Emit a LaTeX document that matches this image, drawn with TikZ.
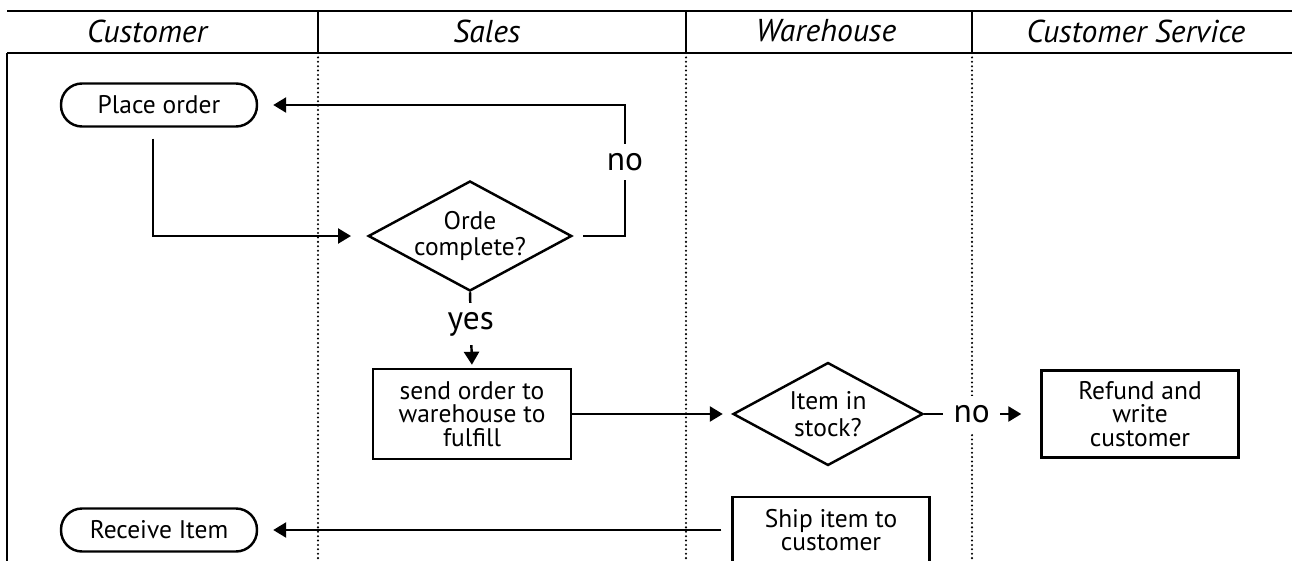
\documentclass[tikz,border=0pt]{standalone}
\usepackage{fontspec}
\setmainfont{PT Sans}
\usetikzlibrary{arrows.meta,shapes.geometric}

\tikzset{
  lane/.style={font=\fontsize{18}{20}\selectfont\itshape},
  terminal/.style={draw, line width=1.4pt, rounded corners=0.42cm, minimum width=3.92cm, minimum height=0.86cm, font=\fontsize{14.5}{13.5}\selectfont},
  process/.style={draw, line width=1.4pt, align=center, inner sep=1pt, font=\fontsize{14.5}{13.5}\selectfont},
  decision/.style={draw, diamond, line width=1.4pt, align=center, inner sep=0pt, shape aspect=1.85, font=\fontsize{14.5}{15}\selectfont},
  flow/.style={line width=1.4pt, -{Triangle[length=0.26cm,width=0.3cm]}},
  swim/.style={line width=1.3pt, dash pattern=on 0pt off 2.5pt, line cap=round},
  answer/.style={fill=white, inner sep=5pt, font=\fontsize{19}{19}\selectfont}
}

\begin{document}
\begin{tikzpicture}[x=0.02cm, y=-0.02cm]
    \useasboundingbox (0,0) rectangle (1292,561);

    % hlavicka
    \draw[line width=1.6pt] (7,11) -- (1292,11);
    \draw[line width=1.6pt] (7,53) -- (1292,53);
    \draw[line width=1.4pt] (7,53) -- (7,561);
    \foreach \x in {318,686,972} {
        \draw[line width=1.6pt] (\x,11) -- (\x,53);
        \draw[swim] (\x,53) -- (\x,561);
    }
    \node[lane] (hcust) at (147,31) {Customer};
    \node[lane] (hsales) at (487,31) {Sales};
    \node[lane] (hware) at (826,31) {Warehouse};
    \node[lane] (hserv) at (1136,31) {Customer Service};

    \node[terminal] (place) at (159,105) {Place order};
    \node[decision, minimum width=3.84cm, minimum height=2.08cm] (ordc) at (470,236) {Orde\\complete?};
    \node[process, minimum width=3.96cm, minimum height=1.8cm] (send) at (472,414) {send order to\\warehouse to\\fulfill};
    \node[decision, minimum width=3.8cm, minimum height=2.06cm] (stock) at (828,414) {Item in\\stock?};
    \node[process, minimum width=3.94cm, minimum height=1.74cm] (refund) at (1140,414) {Refund and\\write\\customer};
    \node[process, minimum width=3.94cm, minimum height=1.32cm] (ship) at (831,530) {Ship item to\\customer};
    \node[terminal] (recv) at (159,530) {Receive Item};

    \coordinate (noturn) at (625,236);

    \draw[flow, shorten <=0.22cm, shorten >=0.32cm] ([xshift=-0.12cm]place.south) |- (ordc.west);
    \draw[flow, shorten <=0.2cm, shorten >=0.3cm] (ordc.east) -- (noturn)
        -- node[answer, pos=0.565] {no} (noturn |- place) -- (place.east);
    \draw[flow, shorten >=0.06cm] (ordc.south) -- node[answer, pos=0.42] {yes} (send.north);
    \draw[flow, shorten >=0.18cm] (send.east) -- (stock.west);
    \draw[flow, shorten >=0.38cm] (stock.east) -- node[answer, pos=0.41, inner xsep=6pt] {no} (refund.west);
    \draw[flow, shorten <=0.2cm, shorten >=0.3cm] (ship.west) -- (recv.east);

\end{tikzpicture}
\end{document}
